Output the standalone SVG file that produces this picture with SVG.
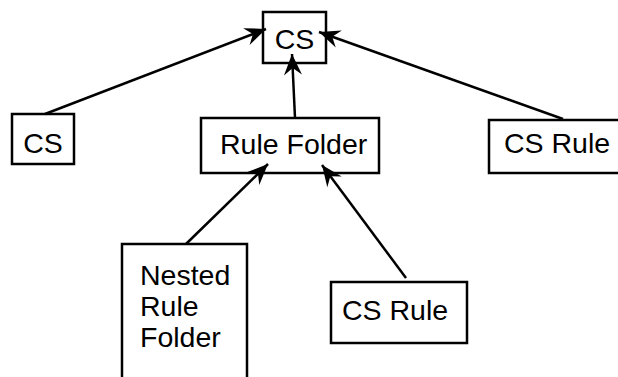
<svg xmlns="http://www.w3.org/2000/svg" width="618" height="377" viewBox="0 0 618 377">
<style>
.box{fill:#fff;stroke:#000;stroke-width:2.5}
.lbl{font-family:"Liberation Sans",Arial,sans-serif;font-size:28.5px;fill:#000}
.edge{stroke:#000;stroke-width:2.5;fill:none;marker-end:url(#ah)}
</style>
<defs>
<marker id="ah" markerUnits="userSpaceOnUse" markerWidth="24" markerHeight="22" viewBox="-22 -11 24 22" refX="0" refY="0" orient="auto">
<path d="M0,0 L-21,-9 L-14,0 L-21,9 Z" fill="#000"/>
</marker>
</defs>
<rect width="618" height="377" fill="#fff"/>
<g id="n-cs-top"><rect class="box" x="263" y="12" width="63" height="51"/><text class="lbl" x="294.5" y="49" text-anchor="middle">CS</text></g>
<g id="n-cs-left"><rect class="box" x="12" y="114" width="62" height="50"/><text class="lbl" x="43" y="153" text-anchor="middle">CS</text></g>
<g id="n-rule-folder"><rect class="box" x="201" y="118" width="178" height="55"/><text class="lbl" x="220" y="154">Rule Folder</text></g>
<g id="n-cs-rule-right"><rect class="box" x="489" y="120" width="140" height="53"/><text class="lbl" x="504" y="153">CS Rule</text></g>
<g id="n-nested"><rect class="box" x="122" y="244" width="125" height="150"/><text class="lbl" x="140" y="285">Nested</text><text class="lbl" x="140" y="316">Rule</text><text class="lbl" x="140" y="347">Folder</text></g>
<g id="n-cs-rule-bottom"><rect class="box" x="331" y="282" width="136" height="61"/><text class="lbl" x="342" y="320">CS Rule</text></g>
<g id="connectors">
<line class="edge" x1="45" y1="114" x2="266" y2="29"/>
<line class="edge" x1="563" y1="119" x2="319" y2="32"/>
<line class="edge" x1="295" y1="118" x2="292" y2="54"/>
<line class="edge" x1="186" y1="244" x2="268" y2="164"/>
<line class="edge" x1="406" y1="278" x2="322" y2="165"/>
</g>
</svg>
